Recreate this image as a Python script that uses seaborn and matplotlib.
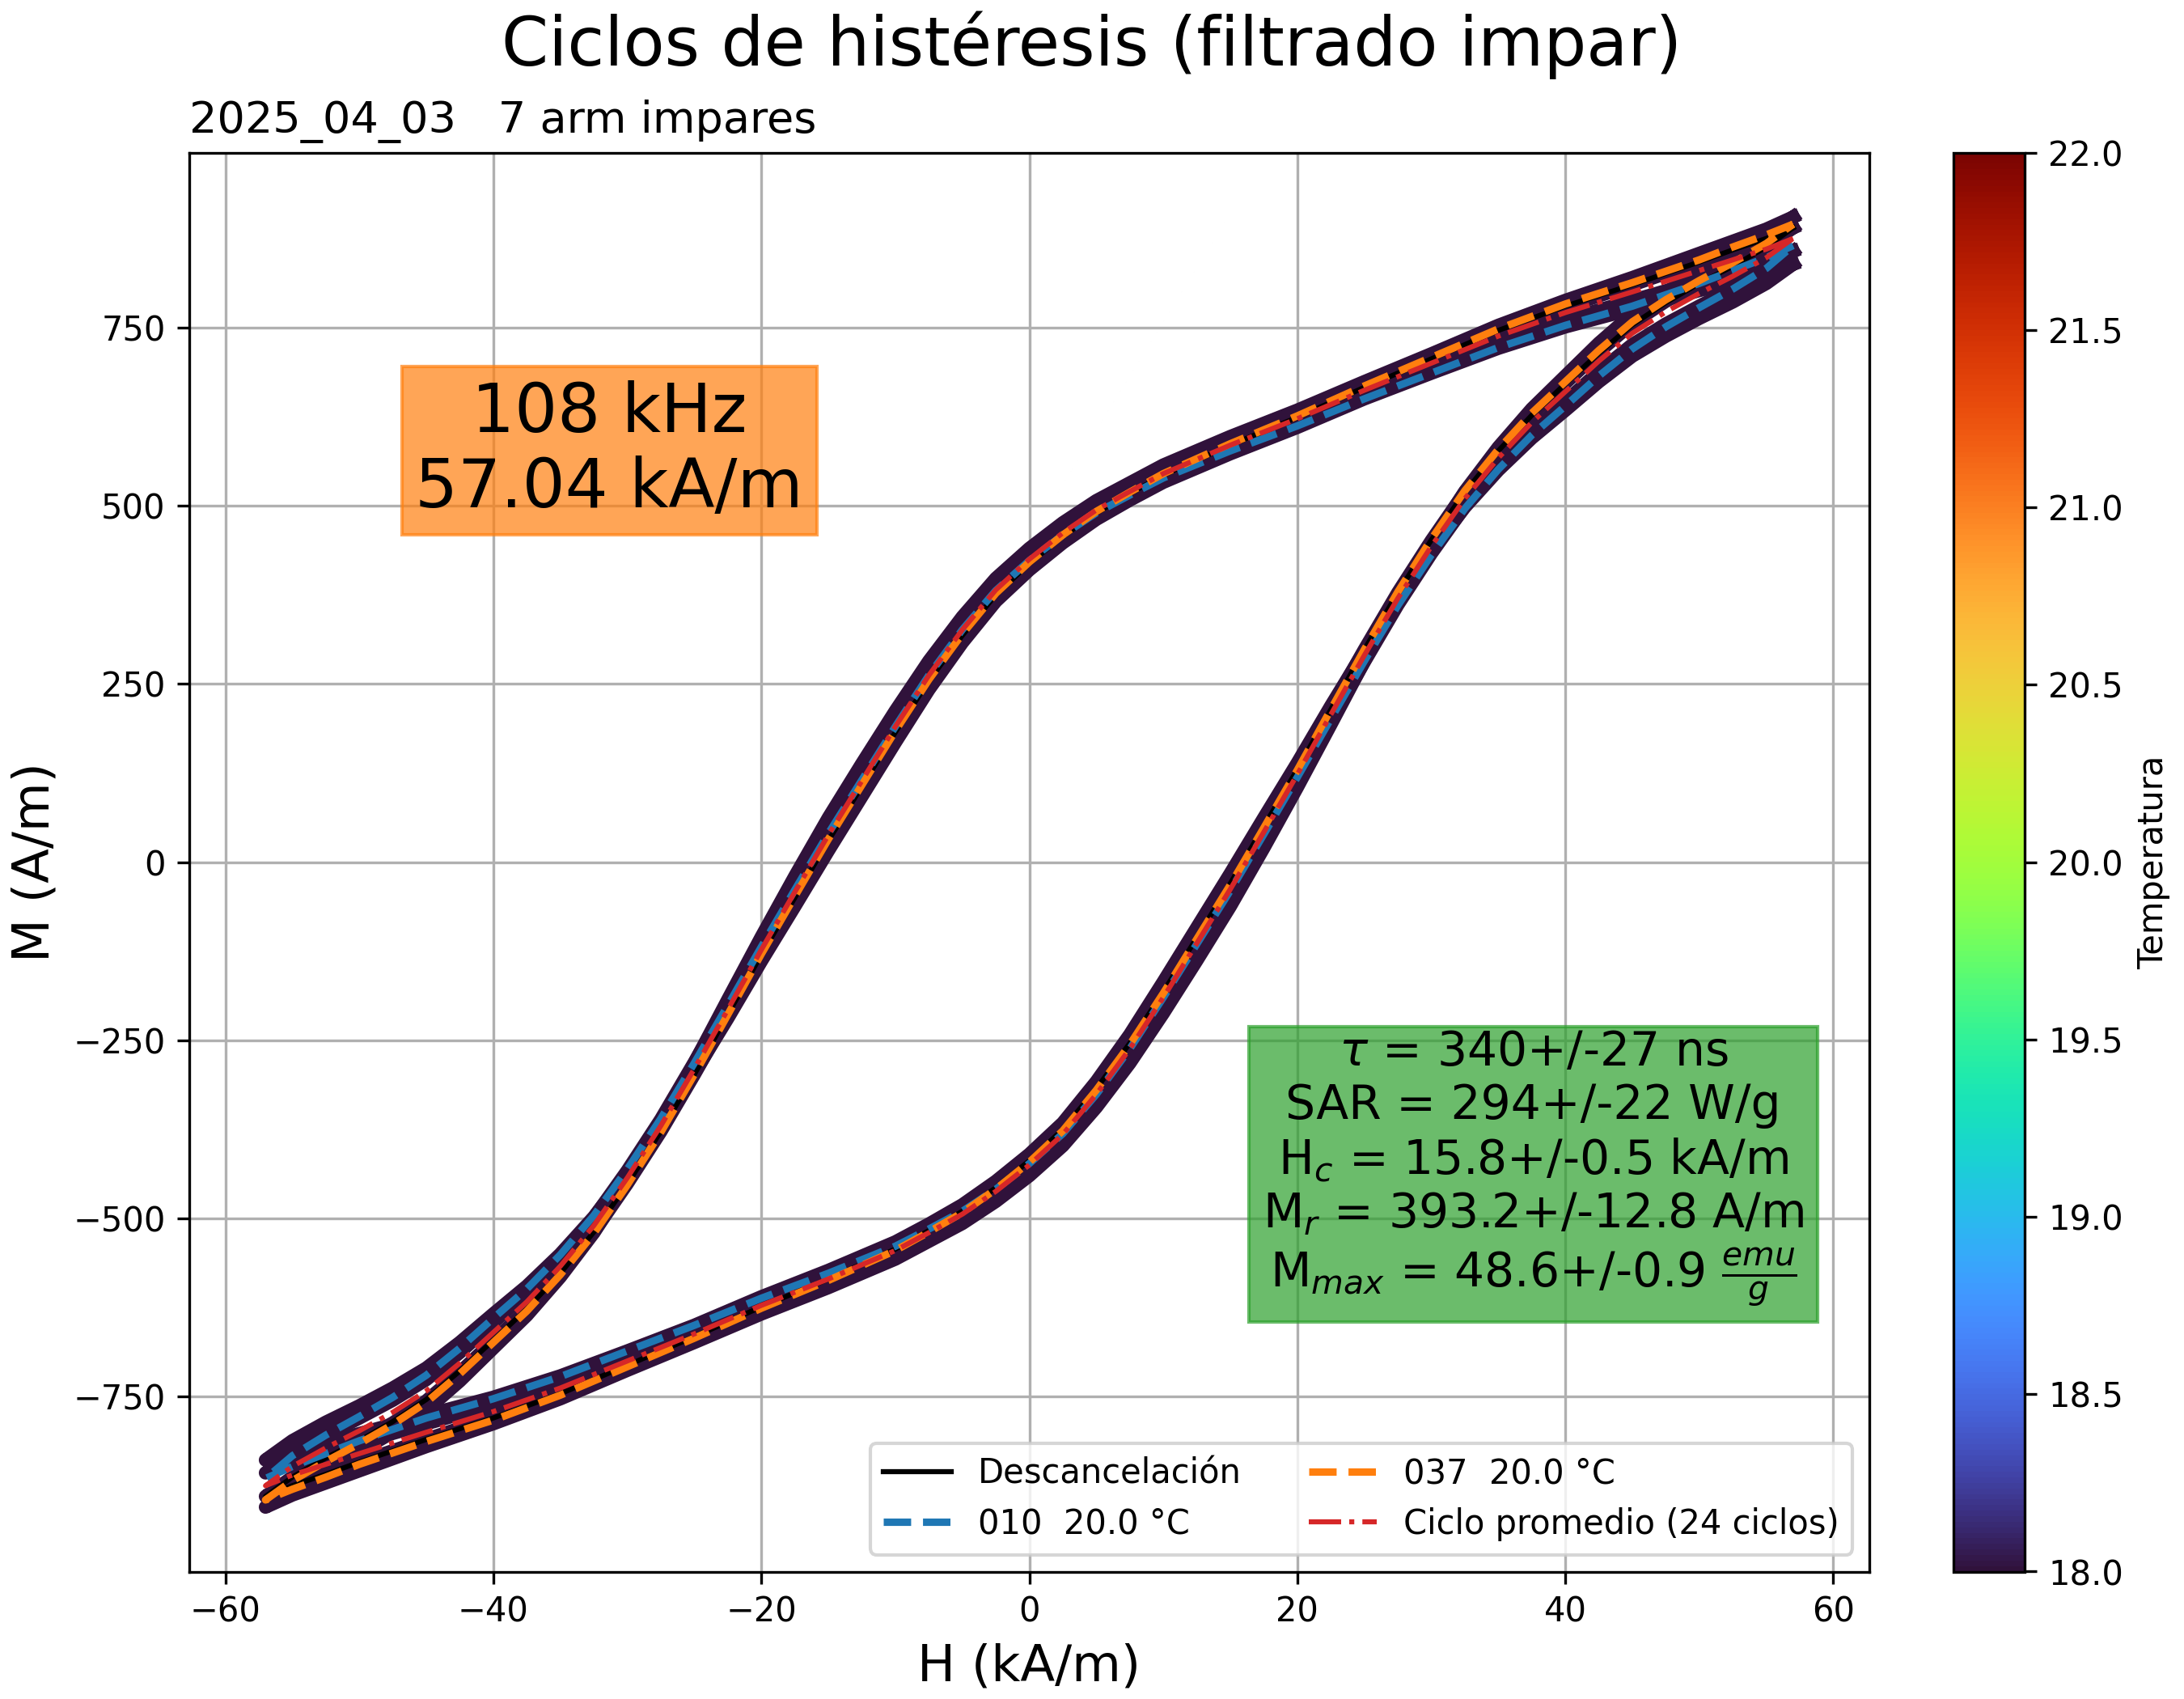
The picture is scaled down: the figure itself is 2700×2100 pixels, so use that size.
import matplotlib
matplotlib.use('Agg')
import matplotlib.pyplot as plt
import seaborn as sns
from matplotlib import cm, colors

# Campo H (kA/m): rama descendente y rama ascendente
H_desc = [57, 55, 52.5, 50, 45, 40, 35, 30, 25, 20, 15, 10, 7.5, 5, 2.5, 0,
          -2.5, -5, -7.5, -10, -12.5, -15, -17.5, -20, -22.5, -25, -27.5, -30, -32.5, -35,
          -37.5, -40, -42.5, -45, -47.5, -50, -52.5, -55, -57]
H_asc = [-57, -55, -52.5, -50, -45, -40, -35, -30, -25, -20, -15, -10, -7.5, -5, -2.5, 0,
         2.5, 5, 7.5, 10, 12.5, 15, 17.5, 20, 22.5, 25, 27.5, 30, 32.5, 35,
         37.5, 40, 42.5, 45, 47.5, 50, 52.5, 55, 57]

# Ciclos individuales (fondo), M en A/m
bg1_desc = [905, 888, 871, 854, 820, 788, 753, 713, 674, 634, 597, 557, 532, 507, 476, 440,
            398, 344, 282, 212, 138, 62, -20, -105, -193, -282, -368, -447, -520, -582,
            -636, -682, -728, -769, -800, -827, -852, -878, -905]
bg1_asc = [-905, -888, -871, -854, -820, -788, -753, -713, -674, -634, -597, -557, -532, -507, -476, -440,
           -398, -344, -282, -212, -138, -62, 20, 105, 193, 282, 368, 447, 520, 582,
           636, 682, 728, 769, 800, 827, 852, 878, 905]
bg2_desc = [890, 874, 858, 842, 810, 779, 744, 704, 664, 622, 583, 541, 515, 488, 455, 417,
            373, 316, 252, 180, 104, 28, -52, -132, -215, -298, -378, -451, -519, -577,
            -628, -672, -716, -756, -787, -813, -837, -863, -890]
bg2_asc = [-890, -874, -858, -842, -810, -779, -744, -704, -664, -622, -583, -541, -515, -488, -455, -417,
           -373, -316, -252, -180, -104, -28, 52, 132, 215, 298, 378, 451, 519, 577,
           628, 672, 716, 756, 787, 813, 837, 863, 890]
bg3_desc = [839, 826, 814, 802, 776, 751, 721, 686, 650, 610, 573, 533, 508, 481, 448, 410,
            366, 308, 242, 168, 92, 16, -62, -139, -219, -296, -370, -437, -498, -550,
            -595, -634, -674, -710, -738, -763, -786, -812, -839]
bg3_asc = [-839, -826, -814, -802, -776, -751, -721, -686, -650, -610, -573, -533, -508, -481, -448, -410,
           -366, -308, -242, -168, -92, -16, 62, 139, 219, 296, 370, 437, 498, 550,
           595, 634, 674, 710, 738, 763, 786, 812, 839]
bg4_desc = [857, 843, 829, 815, 788, 761, 731, 696, 661, 624, 589, 551, 527, 502, 471, 435,
            392, 336, 272, 200, 124, 48, -32, -114, -198, -281, -361, -433, -499, -555,
            -604, -646, -688, -726, -755, -780, -804, -830, -857]
bg4_asc = [-857, -843, -829, -815, -788, -761, -731, -696, -661, -624, -589, -551, -527, -502, -471, -435,
           -392, -336, -272, -200, -124, -48, 32, 114, 198, 281, 361, 433, 499, 555,
           604, 646, 688, 726, 755, 780, 804, 830, 857]
bg_temp = [18.0, 18.0, 18.0, 18.0]

# Descancelación
desc_desc = [890, 875, 859, 842, 810, 780, 746, 706, 666, 624, 585, 543, 517, 490, 457, 419,
             375, 318, 254, 182, 106, 30, -50, -130, -214, -298, -378, -452, -519, -577,
             -627, -671, -714, -754, -785, -812, -836, -863, -890]
desc_asc = [-890, -875, -859, -842, -810, -780, -746, -706, -666, -624, -585, -543, -517, -490, -457, -419,
            -375, -318, -254, -182, -106, -30, 50, 130, 214, 298, 378, 452, 519, 577,
            627, 671, 714, 754, 785, 812, 836, 863, 890]
# ciclo 010
c010_desc = [865, 848, 830, 812, 780, 753, 722, 686, 650, 612, 577, 539, 515, 490, 459, 423,
             381, 326, 262, 190, 115, 40, -39, -119, -201, -282, -360, -431, -496, -551,
             -599, -640, -682, -720, -751, -778, -804, -833, -865]
c010_asc = [-865, -848, -830, -812, -780, -753, -722, -686, -650, -612, -577, -539, -515, -490, -459, -423,
            -381, -326, -262, -190, -115, -40, 39, 119, 201, 282, 360, 431, 496, 551,
            599, 640, 682, 720, 751, 778, 804, 833, 865]
# ciclo 037
c037_desc = [895, 880, 863, 845, 813, 783, 748, 708, 668, 626, 587, 545, 519, 492, 459, 421,
             377, 320, 256, 184, 108, 32, -48, -129, -214, -298, -379, -453, -521, -579,
             -630, -674, -718, -758, -789, -816, -841, -868, -895]
c037_asc = [-895, -880, -863, -845, -813, -783, -748, -708, -668, -626, -587, -545, -519, -492, -459, -421,
            -377, -320, -256, -184, -108, -32, 48, 129, 214, 298, 379, 453, 521, 579,
            630, 674, 718, 758, 789, 816, 841, 868, 895]
# ciclo promedio
prom_desc = [875, 860, 845, 830, 800, 771, 738, 700, 662, 622, 585, 545, 520, 494, 462, 425,
             382, 326, 262, 190, 114, 38, -42, -123, -207, -290, -370, -443, -510, -567,
             -617, -660, -703, -742, -772, -798, -822, -848, -875]
prom_asc = [-875, -860, -845, -830, -800, -771, -738, -700, -662, -622, -585, -545, -520, -494, -462, -425,
            -382, -326, -262, -190, -114, -38, 42, 123, 207, 290, 370, 443, 510, 567,
            617, 660, 703, 742, 772, 798, 822, 848, 875]

x_ticks = [-60, -40, -20, 0, 20, 40, 60]
y_ticks = [-750, -500, -250, 0, 250, 500, 750]
cb_ticks = [18.0, 18.5, 19.0, 19.5, 20.0, 20.5, 21.0, 21.5, 22.0]

fig = plt.figure(figsize=(9, 7), dpi=300)
ax = fig.add_axes([0.0866, 0.0750, 0.7694, 0.8352])
cax = fig.add_axes([0.8944, 0.0750, 0.0326, 0.8352])

cmap = plt.get_cmap('turbo')
norm = colors.Normalize(vmin=18, vmax=22)

H_loop = H_desc + H_asc

# ciclos de fondo coloreados por temperatura
fondo = [(bg1_desc, bg1_asc), (bg2_desc, bg2_asc), (bg3_desc, bg3_asc), (bg4_desc, bg4_asc)]
for (m_d, m_a), T in zip(fondo, bg_temp):
    sns.lineplot(x=H_loop, y=m_d + m_a, sort=False, estimator=None,
                 color=cmap(norm(T)), lw=4, ax=ax)

sns.lineplot(x=H_loop, y=desc_desc + desc_asc, sort=False, estimator=None,
             color='k', lw=1.5, label='Descancelación', ax=ax)
sns.lineplot(x=H_loop, y=c010_desc + c010_asc, sort=False, estimator=None,
             color='tab:blue', ls='--', lw=2.2, label='010  20.0 °C', ax=ax)
sns.lineplot(x=H_loop, y=c037_desc + c037_asc, sort=False, estimator=None,
             color='tab:orange', ls='--', lw=2.2, label='037  20.0 °C', ax=ax)
sns.lineplot(x=H_loop, y=prom_desc + prom_asc, sort=False, estimator=None,
             color='tab:red', ls='-.', lw=1.5, label='Ciclo promedio (24 ciclos)', ax=ax)

ax.set_xticks(x_ticks)
ax.set_yticks(y_ticks)
ax.grid(True)
ax.legend(loc='lower right', ncol=2, fontsize=10)

ax.text(0.25, 0.79, '108 kHz\n57.04 kA/m', fontsize=20, ha='center', va='center',
        transform=ax.transAxes, bbox=dict(color='tab:orange', alpha=0.7))
info = ('$\\tau$ = 340+/-27 ns\nSAR = 294+/-22 W/g\nH$_c$ = 15.8+/-0.5 kA/m\n'
        'M$_r$ = 393.2+/-12.8 A/m\nM$_{max}$ = 48.6+/-0.9 $\\frac{emu}{g}$')
ax.text(0.80, 0.284, info, fontsize=14, ha='center', va='center',
        transform=ax.transAxes, bbox=dict(color='tab:green', alpha=0.7))

ax.set_xlabel('H (kA/m)', fontsize=15)
ax.set_ylabel('M (A/m)', fontsize=15)
ax.set_title('2025_04_03   7 arm impares', loc='left', fontsize=13)
fig.suptitle('Ciclos de histéresis (filtrado impar)', fontsize=20, x=0.5, y=0.9614, va='baseline')

sm = cm.ScalarMappable(norm=norm, cmap=cmap)
cb = fig.colorbar(sm, cax=cax)
cb.set_ticks(cb_ticks)
cb.set_label('Temperatura')

fig.savefig('out.png', dpi=300)
